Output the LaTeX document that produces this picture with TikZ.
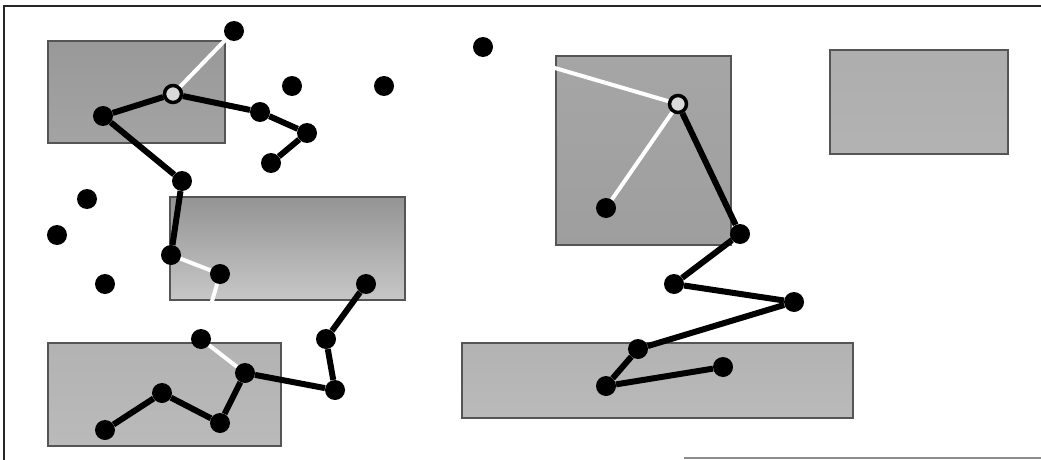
\documentclass[tikz,border=0pt]{standalone}
\usetikzlibrary{fit}
\definecolor{boxline}{HTML}{555555}
\definecolor{wline}{HTML}{FFFFFF}
\tikzset{
  box/.style={draw=boxline, line width=1.3pt, inner sep=0pt},
  dot/.style={circle, fill=black, inner sep=0pt, minimum size=20pt},
  ring/.style={circle, draw=black, line width=3.5pt, fill=gray!30, inner sep=0pt, minimum size=17pt},
  blk/.style={line width=6pt, black},
  wht/.style={line width=4pt, wline},
  frameline/.style={line width=1.4pt, black!85}
}
\begin{document}
\begin{tikzpicture}[x=1pt,y=-1pt]
\useasboundingbox (0,0) rectangle (1041,460);
\fill[white] (0,0) rectangle (1041,460);
% frame
\draw[frameline] (3,6) -- (1041,6);
\draw[frameline] (4,6) -- (4,460);
\draw[line width=1.2pt, black!45] (684,458) -- (1041,458);
% boxes
\node[box, top color=black!40, bottom color=black!36, fit={(48,41) (225,143)}] (r1) {};
\node[box, top color=black!42, bottom color=black!22, fit={(170,197) (405,300)}] (r2) {};
\node[box, top color=black!30, bottom color=black!27, fit={(48,343) (281,446)}] (r3) {};
\node[box, top color=black!35, bottom color=black!38, fit={(556,56) (731,245)}] (r4) {};
\node[box, top color=black!32, bottom color=black!30, fit={(830,50) (1008,154)}] (r5) {};
\node[box, top color=black!30, bottom color=black!27, fit={(462,343) (853,418)}] (r6) {};
% left nodes
\node[dot] (a1) at (234,31) {};
\node[ring] (a2) at (173,94) {};
\node[dot] (a3) at (103,116) {};
\node[dot] (a4) at (292,86) {};
\node[dot] (a5) at (384,86) {};
\node[dot] (a6) at (260,112) {};
\node[dot] (a7) at (307,133) {};
\node[dot] (a8) at (271,163) {};
\node[dot] (a9) at (182,181) {};
\node[dot] (b1) at (87,199) {};
\node[dot] (b2) at (57,235) {};
\node[dot] (b3) at (105,284) {};
\node[dot] (b4) at (171,255) {};
\node[dot] (b5) at (220,274) {};
\node[dot] (b6) at (366,284) {};
\node[dot] (b7) at (326,339) {};
\node[dot] (b8) at (201,339) {};
\node[dot] (b9) at (245,373) {};
\node[dot] (c1) at (335,390) {};
\node[dot] (c2) at (162,393) {};
\node[dot] (c3) at (105,430) {};
\node[dot] (c4) at (220,423) {};
% right nodes
\node[dot] (d1) at (483,47) {};
\node[ring] (d2) at (678,104) {};
\node[dot] (d3) at (606,208) {};
\node[dot] (d4) at (740,234) {};
\node[dot] (d5) at (674,284) {};
\node[dot] (d6) at (794,302) {};
\node[dot] (d7) at (638,349) {};
\node[dot] (d8) at (606,386) {};
\node[dot] (d9) at (723,367) {};
% left connectors
\draw[wht] (a1) -- (a2);
\draw[blk] (a2) -- (a3);
\draw[blk] (a2) -- (a6);
\draw[blk] (a6) -- (a7);
\draw[blk] (a7) -- (a8);
\draw[blk] (a3) -- (a9);
\draw[blk] (a9) -- (b4);
\draw[wht] (b4) -- (b5);
\draw[wht] (b5) -- (b8);
\draw[wht] (b8) -- (b9);
\draw[blk] (b9) -- (c1);
\draw[blk] (c1) -- (b7);
\draw[blk] (b7) -- (b6);
\draw[blk] (b9) -- (c4);
\draw[blk] (c4) -- (c2);
\draw[blk] (c2) -- (c3);
% right connectors
\draw[wht] (d1) -- (d2);
\draw[wht] (d2) -- (d3);
\draw[blk] (d2) -- (d4);
\draw[blk] (d4) -- (d5);
\draw[blk] (d5) -- (d6);
\draw[blk] (d6) -- (d7);
\draw[blk] (d7) -- (d8);
\draw[blk] (d8) -- (d9);
\end{tikzpicture}
\end{document}
